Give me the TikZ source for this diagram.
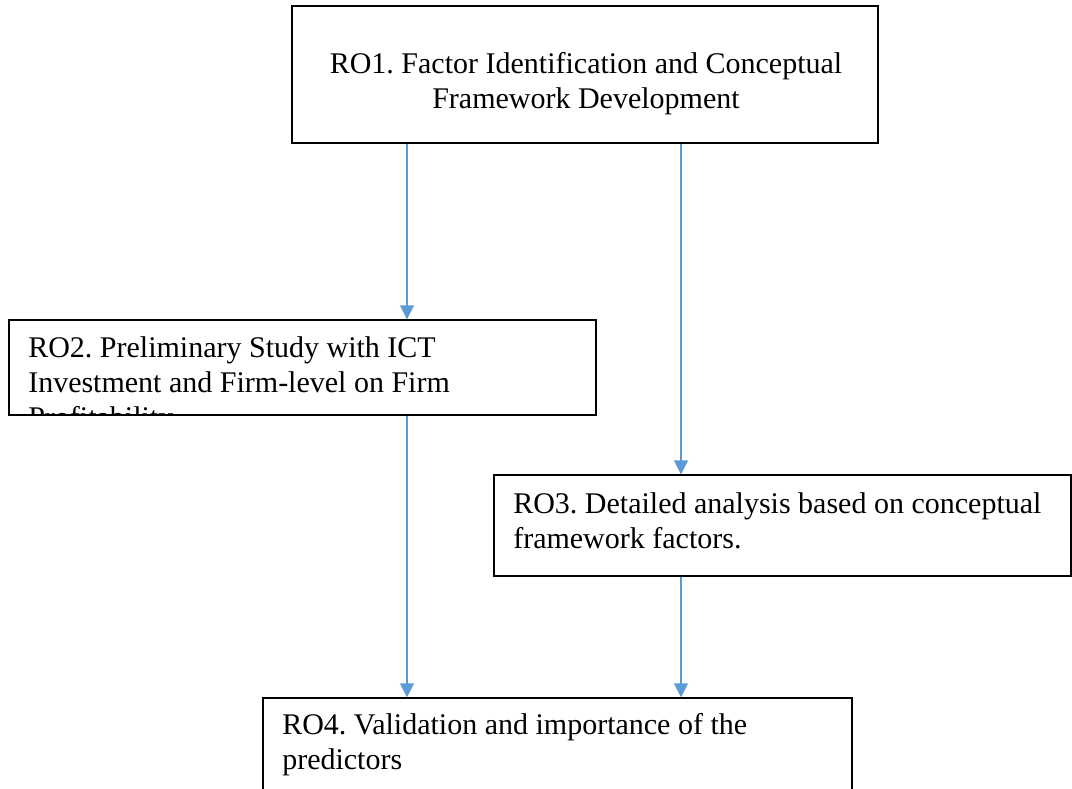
\documentclass[tikz,border=0pt]{standalone}
\usepackage{fontspec}
\setmainfont{Liberation Serif}
\frenchspacing
\usetikzlibrary{arrows.meta,calc}
\definecolor{arrblue}{HTML}{5B9BD5}
\tikzset{
  box/.style={draw=black, line width=1pt, fill=white, inner sep=0pt},
  txt/.style={inner sep=0pt, font=\fontsize{22.5pt}{26.25pt}\selectfont},
  arr/.style={draw=arrblue, line width=1pt, -{Triangle[length=10.5pt,width=10.5pt]}}
}
\begin{document}
\begin{tikzpicture}[x=0.75pt,y=-0.75pt]
\useasboundingbox (0,0) rectangle (1072,789);
\fill[white] (0,0) rectangle (1072,789);
% boxes
\node[box, minimum width=439.5pt, minimum height=102.75pt] (ro1) at (585,74.5) {};
\node[box, minimum width=440.25pt, minimum height=71.25pt] (ro2) at (302.5,367.5) {};
\node[box, minimum width=432.75pt, minimum height=75.75pt] (ro3) at (782.5,525.5) {};
\node[box, minimum width=441.75pt, minimum height=90pt] (ro4) at (557.5,758) {};
% texts (base anchor = baseline of last line)
\node[txt, align=center, anchor=base] (t1) at (586,108) {RO1. Factor Identification and Conceptual\\Framework Development};
\begin{scope}
\clip (ro2.north west) rectangle (ro2.south east);
\node[txt, align=left, anchor=base west] (t2) at (28,427) {RO2. Preliminary Study with ICT\\Investment and Firm-level on Firm\\Profitability};
\end{scope}
\node[txt, align=left, anchor=base west] (t3) at (513,548) {RO3. Detailed analysis based on conceptual\\framework factors.};
\node[txt, align=left, anchor=base west] (t4) at (282,769) {RO4. Validation and importance of the\\predictors};
% connectors
\coordinate (xa) at (407,0);
\coordinate (xb) at (681,0);
\draw[arr] (xa |- ro1.south) -- (xa |- ro2.north);
\draw[arr] (xb |- ro1.south) -- (xb |- ro3.north);
\draw[arr] (xa |- ro2.south) -- (xa |- ro4.north);
\draw[arr] (xb |- ro3.south) -- (xb |- ro4.north);
\end{tikzpicture}
\end{document}
